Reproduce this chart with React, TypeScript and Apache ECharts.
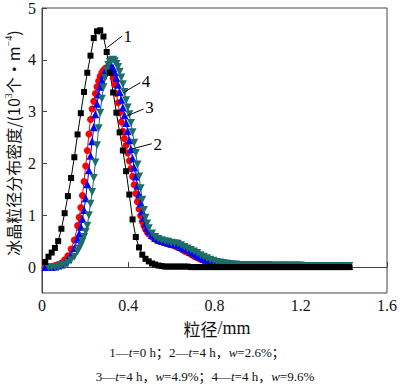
import React, { useEffect, useRef } from "react";
import * as echarts from "echarts";

// particle size (mm) for curve 1
const sizes1 = [
  0.015, 0.03, 0.045, 0.06, 0.075, 0.09, 0.105, 0.12, 0.135, 0.15,
  0.165, 0.18, 0.195, 0.21, 0.225, 0.24, 0.255, 0.27, 0.285, 0.3,
  0.315, 0.33, 0.345, 0.36, 0.375, 0.39, 0.405, 0.42, 0.435, 0.45,
  0.465, 0.48, 0.495, 0.51, 0.525, 0.54, 0.555, 0.57, 0.585, 0.6,
  0.615, 0.63, 0.645, 0.66, 0.675, 0.69, 0.705, 0.72, 0.735, 0.75,
  0.765, 0.78, 0.795, 0.81, 0.825, 0.84, 0.855, 0.87, 0.885, 0.9,
  0.915, 0.93, 0.945, 0.96, 0.975, 0.99, 1.005, 1.02, 1.035, 1.05,
  1.065, 1.08, 1.095, 1.11, 1.125, 1.14, 1.155, 1.17, 1.185, 1.2,
  1.215, 1.23, 1.245, 1.26, 1.275, 1.29, 1.305, 1.32, 1.335, 1.35,
  1.365, 1.38, 1.395, 1.41, 1.425,
];

// particle size (mm) for curves 2–4 (denser sampling across the peak)
const sizes2 = [
  0.015, 0.03, 0.045, 0.06, 0.075, 0.09, 0.105, 0.12, 0.135, 0.15, 0.165,
  0.1725, 0.18, 0.1875, 0.195, 0.2025, 0.21, 0.2175, 0.225, 0.2325, 0.24,
  0.2475, 0.255, 0.2625, 0.27, 0.2775, 0.285, 0.2925, 0.3, 0.3075, 0.315,
  0.3225, 0.33, 0.3375, 0.345, 0.3525, 0.36, 0.3675, 0.375, 0.3825, 0.39,
  0.3975, 0.405, 0.4125, 0.42, 0.4275, 0.435, 0.4425, 0.45, 0.4575, 0.465,
  0.4725, 0.48, 0.4875, 0.495,
  0.51, 0.525, 0.54, 0.555, 0.57, 0.585, 0.6,
  0.615, 0.63, 0.645, 0.66, 0.675, 0.69, 0.705, 0.72, 0.735, 0.75,
  0.765, 0.78, 0.795, 0.81, 0.825, 0.84, 0.855, 0.87, 0.885, 0.9,
  0.915, 0.93, 0.945, 0.96, 0.975, 0.99, 1.005, 1.02, 1.035, 1.05,
  1.065, 1.08, 1.095, 1.11, 1.125, 1.14, 1.155, 1.17, 1.185, 1.2,
  1.215, 1.23, 1.245, 1.26, 1.275, 1.29, 1.305, 1.32, 1.335, 1.35,
  1.365, 1.38, 1.395, 1.41, 1.425,
];

// 1 — t=0 h
const series1 = [
  0.10, 0.20, 0.28, 0.37, 0.50, 0.74, 1.04, 1.37, 1.72, 2.12,
  2.56, 2.97, 3.38, 3.75, 4.08, 4.42, 4.55, 4.57, 4.45, 4.15,
  3.75, 3.37, 2.98, 2.6, 2.25, 1.85, 1.4, 0.92, 0.58, 0.38,
  0.24, 0.16, 0.11, 0.07, 0.05, 0.03, 0.02, 0.01, 0.01, 0.01,
  0.01, 0.01, 0.01, 0.01, 0.01, 0, 0, 0, 0, 0,
  0, 0, 0, 0, 0, 0, 0, 0, 0, 0,
  0, 0, 0, 0, 0, 0, 0, 0, 0, 0,
  0, 0, 0, 0, 0, 0, 0, 0, 0, 0,
  0, 0, 0, 0, 0, 0, 0, 0, 0, 0,
  0, 0, 0, 0, 0,
];

// 2 — t=4 h, w=2.6%
const series2 = [
  0.0, 0.0, 0.01, 0.03, 0.05, 0.08, 0.14, 0.22, 0.35, 0.52, 0.8,
  0.96, 1.15, 1.38, 1.65, 1.95, 2.25, 2.57, 2.85, 3.05, 3.2,
  3.35, 3.48, 3.59, 3.68, 3.75, 3.8, 3.83, 3.85, 3.83, 3.8,
  3.74, 3.65, 3.52, 3.35, 3.17, 2.98, 2.8, 2.62, 2.48, 2.35,
  2.2, 2.05, 1.9, 1.75, 1.59, 1.42, 1.26, 1.12, 0.99, 0.88,
  0.8, 0.73, 0.68, 0.64,
  0.58, 0.54, 0.51, 0.49, 0.47, 0.45, 0.43,
  0.41, 0.38, 0.35, 0.31, 0.28, 0.25, 0.21, 0.18, 0.15, 0.13,
  0.11, 0.09, 0.08, 0.07, 0.06, 0.05, 0.04, 0.04, 0.04, 0.04,
  0.03, 0.03, 0.03, 0.03, 0.03, 0.03, 0.03, 0.03, 0.03, 0.03,
  0.02, 0.02, 0.02, 0.02, 0.02, 0.02, 0.02, 0.02, 0.02, 0.02,
  0.01, 0.01, 0.01, 0.01, 0.01, 0.01, 0.01, 0.01, 0.01, 0.01,
  0.01, 0.01, 0.01, 0.01, 0.01,
];

// 3 — t=4 h, w=4.9%
const series3 = [
  0.0, 0.0, 0.0, 0.01, 0.03, 0.05, 0.09, 0.15, 0.24, 0.37, 0.54,
  0.65, 0.78, 0.93, 1.1, 1.33, 1.6, 1.87, 2.15, 2.43, 2.7,
  2.95, 3.15, 3.33, 3.48, 3.6, 3.7, 3.78, 3.84, 3.88, 3.9,
  3.88, 3.84, 3.76, 3.65, 3.52, 3.38, 3.23, 3.08, 2.93, 2.78,
  2.62, 2.45, 2.28, 2.1, 1.92, 1.75, 1.57, 1.4, 1.23, 1.08,
  0.95, 0.84, 0.76, 0.7,
  0.62, 0.56, 0.53, 0.51, 0.49, 0.47, 0.45,
  0.44, 0.42, 0.39, 0.36, 0.33, 0.29, 0.26, 0.22, 0.19, 0.16,
  0.14, 0.12, 0.1, 0.09, 0.08, 0.07, 0.06, 0.05, 0.05, 0.05,
  0.04, 0.04, 0.04, 0.04, 0.04, 0.04, 0.04, 0.04, 0.04, 0.04,
  0.03, 0.03, 0.03, 0.03, 0.03, 0.03, 0.03, 0.03, 0.03, 0.03,
  0.02, 0.02, 0.02, 0.02, 0.02, 0.02, 0.02, 0.02, 0.02, 0.02,
  0.02, 0.02, 0.02, 0.02, 0.02,
];

// 4 — t=4 h, w=9.6%
const series4 = [
  null, -0.01, -0.01, 0.0, 0.0, 0.02, 0.05, 0.08, 0.13, 0.2, 0.3,
  0.36, 0.42, 0.5, 0.58, 0.68, 0.8, 1.0, 1.22, 1.45, 1.72,
  2.02, 2.35, 2.68, 2.98, 3.25, 3.47, 3.65, 3.8, 3.9, 3.96,
  3.99, 4.0, 3.97, 3.92, 3.86, 3.77, 3.66, 3.53, 3.38, 3.22,
  3.08, 2.95, 2.78, 2.6, 2.4, 2.2, 1.98, 1.75, 1.52, 1.3,
  1.1, 0.95, 0.84, 0.75,
  0.65, 0.58, 0.54, 0.52, 0.5, 0.49, 0.47,
  0.46, 0.45, 0.42, 0.39, 0.36, 0.33, 0.3, 0.27, 0.23, 0.2,
  0.17, 0.14, 0.12, 0.1, 0.09, 0.08, 0.07, 0.06, 0.05, 0.05,
  0.04, 0.04, 0.04, 0.04, 0.04, 0.04, 0.04, 0.04, 0.04, 0.04,
  0.03, 0.03, 0.03, 0.03, 0.03, 0.03, 0.03, 0.03, 0.03, 0.03,
  0.02, 0.02, 0.02, 0.02, 0.02, 0.02, 0.02, 0.02, 0.02, 0.02,
  0.02, 0.02, 0.02, 0.02, 0.02,
];

const xTicks = [0, 0.4, 0.8, 1.2, 1.6];
const yTicks = [0, 1, 2, 3, 4, 5];

// curve labels: [label, lineStart(x,y), lineEnd(x,y), labelPos(x,y)] in data units
const curveLabels: [string, number[], number[], number[]][] = [
  ["1", [0.303, 4.24], [0.372, 4.46], [0.398, 4.45]],
  ["4", [0.379, 3.37], [0.456, 3.56], [0.482, 3.58]],
  ["3", [0.395, 2.92], [0.471, 3.05], [0.498, 3.08]],
  ["2", [0.417, 2.28], [0.509, 2.38], [0.537, 2.37]],
];

const SERIF = "Liberation Serif";
const SERIF_CJK = "'Liberation Serif', 'Noto Sans CJK SC'";
const CJK = "Noto Sans CJK SC";

const pair = (xs: number[], ys: (number | null)[]) =>
  xs.map((x, i) => [x, ys[i] === null ? "-" : ys[i]]);

export default function App() {
  const ref = useRef<HTMLDivElement>(null);
  useEffect(() => {
    if (!ref.current) return;
    const chart = echarts.init(ref.current, null, { renderer: "svg" });
    const common = { type: "line", symbolKeepAspect: true };
    chart.setOption({
      animation: false,
      backgroundColor: "#fff",
      grid: {
        left: 42, top: 6, width: 350, height: 287,
        show: true, borderColor: "#444", borderWidth: 1, backgroundColor: "transparent",
      },
      xAxis: {
        type: "value", min: 0, max: 1.6,
        axisLine: { show: true, lineStyle: { color: "#444", width: 1 } },
        axisTick: { show: true, inside: true, length: 5, customValues: xTicks, lineStyle: { color: "#444" } },
        axisLabel: {
          customValues: xTicks, color: "#111", fontFamily: SERIF, fontSize: 16, margin: 4,
          formatter: (v: number) => String(v),
        },
        splitLine: { show: false },
      },
      yAxis: {
        type: "value", min: -0.5, max: 5,
        axisLine: { show: true, lineStyle: { color: "#444", width: 1 } },
        axisTick: { show: true, inside: true, length: 5, customValues: yTicks, lineStyle: { color: "#444" } },
        axisLabel: {
          customValues: yTicks, color: "#111", fontFamily: SERIF, fontSize: 16, margin: 6,
          formatter: (v: number) => String(v),
        },
        splitLine: { show: false },
      },
      series: [
        { ...common, name: "2", data: pair(sizes2, series2), symbol: "circle", symbolSize: 7,
          itemStyle: { color: "#ff0000" }, lineStyle: { width: 1, color: "#ff0000" } },
        { ...common, name: "3", data: pair(sizes2, series3), symbol: "triangle", symbolSize: 8,
          itemStyle: { color: "#0000ff" }, lineStyle: { width: 1, color: "#0000ff" } },
        { ...common, name: "4", data: pair(sizes2, series4), symbol: "triangle", symbolRotate: 180, symbolSize: 8,
          itemStyle: { color: "#1d6d68" }, lineStyle: { width: 1, color: "#1d6d68" } },
        { ...common, name: "1", data: pair(sizes1, series1), symbol: "rect", symbolSize: 6,
          itemStyle: { color: "#000" }, lineStyle: { width: 1, color: "#000" } },
      ],
    });

    const graphics: any[] = [];
    curveLabels.forEach(([t, a, b, p]) => {
      const pa = chart.convertToPixel({ gridIndex: 0 }, a) as number[];
      const pb = chart.convertToPixel({ gridIndex: 0 }, b) as number[];
      const pp = chart.convertToPixel({ gridIndex: 0 }, p) as number[];
      graphics.push({
        type: "line", shape: { x1: pa[0], y1: pa[1], x2: pb[0], y2: pb[1] },
        style: { stroke: "#000", lineWidth: 1 }, z: 100,
      });
      graphics.push({
        type: "text", x: pp[0], y: pp[1], z: 100,
        style: { text: t, fontFamily: SERIF, fontSize: 17, fill: "#000", align: "center", verticalAlign: "middle" },
      });
    });
    // y axis title
    graphics.push({
      type: "text", x: 13, y: 143, rotation: Math.PI / 2,
      style: {
        text: "冰晶粒径分布密度/(10{sup|3}个·m{sup|−4})",
        fontFamily: CJK, fontSize: 16, fill: "#111", align: "center", verticalAlign: "middle",
        rich: {
          sup: { fontSize: 10, fontFamily: SERIF, verticalAlign: "top", lineHeight: 20, fill: "#111" },
        },
        lineHeight: 20,
      },
    });
    // x axis title
    graphics.push({
      type: "text", x: 217, y: 328,
      style: {
        text: "粒径{s|/mm}", fontFamily: CJK, fontSize: 17, fill: "#111", align: "center", verticalAlign: "middle",
        rich: { s: { fontFamily: SERIF, fontSize: 18, fill: "#111" } },
      },
    });
    const it = { fontStyle: "italic", fontFamily: SERIF, fontSize: 13, fill: "#111" };
    graphics.push({
      type: "text", x: 197, y: 352,
      style: {
        text: "1—{i|t}=0 h；2—{i|t}=4 h，{i|w}=2.6%；",
        fontFamily: SERIF_CJK, fontSize: 13, fill: "#111", align: "center", verticalAlign: "middle",
        rich: { i: it },
      },
    });
    graphics.push({
      type: "text", x: 205, y: 376,
      style: {
        text: "3—{i|t}=4 h，{i|w}=4.9%；4—{i|t}=4 h，{i|w}=9.6%",
        fontFamily: SERIF_CJK, fontSize: 13, fill: "#111", align: "center", verticalAlign: "middle",
        rich: { i: it },
      },
    });
    chart.setOption({ graphic: graphics });
    return () => chart.dispose();
  }, []);
  return (
    <div
      ref={ref}
      style={{ position: "fixed", left: 0, top: 0, width: 400, height: 386, background: "#fff" }}
    />
  );
}
